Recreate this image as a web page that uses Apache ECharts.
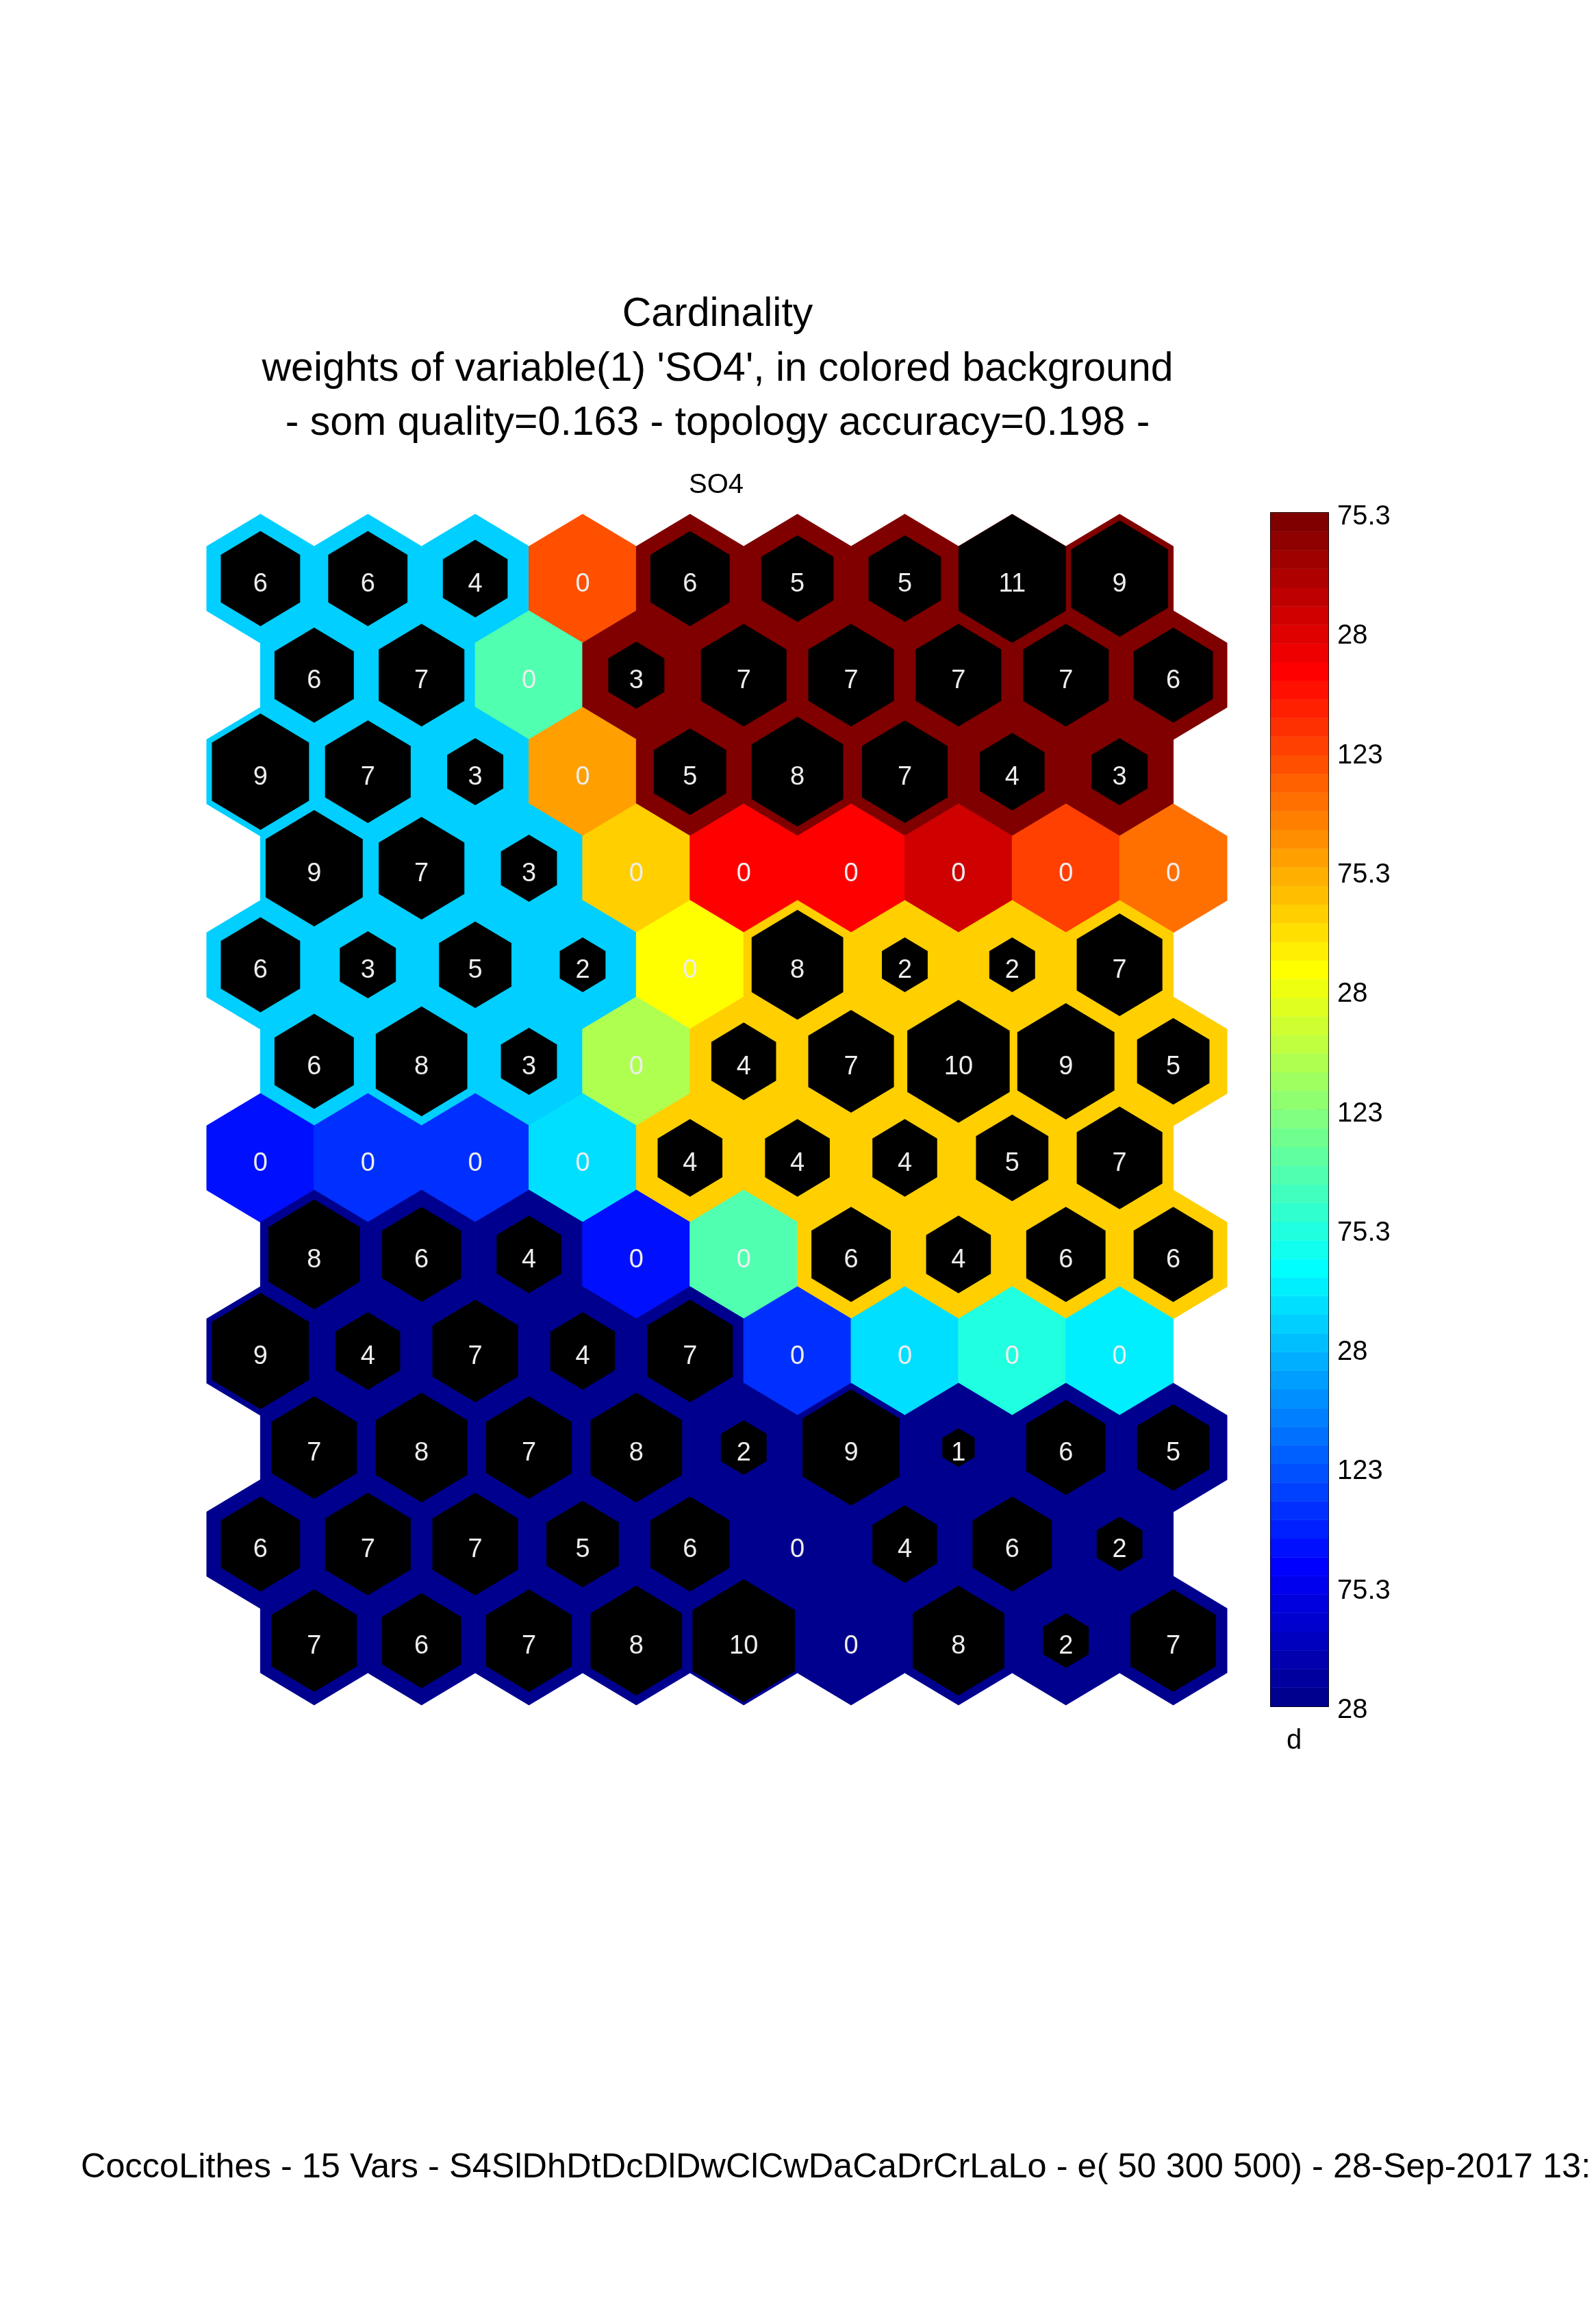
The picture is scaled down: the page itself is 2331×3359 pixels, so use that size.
<!DOCTYPE html>
<html>
<head>
<meta charset="utf-8">
<title>Cardinality - SO4</title>
<script src="https://cdn.jsdelivr.net/npm/echarts@6/dist/echarts.min.js"></script>
<style>
  html, body { margin: 0; padding: 0; background: #fff; }
  #chart { width: 2331px; height: 3359px; }
</style>
</head>
<body>
<div id="chart"></div>
<script>
// hits per SOM unit, 12 rows x 9 columns (odd rows sit half a cell to the right)
const hits = [
  [6, 6, 4, 0, 6, 5, 5, 11, 9],
  [6, 7, 0, 3, 7, 7, 7, 7, 6],
  [9, 7, 3, 0, 5, 8, 7, 4, 3],
  [9, 7, 3, 0, 0, 0, 0, 0, 0],
  [6, 3, 5, 2, 0, 8, 2, 2, 7],
  [6, 8, 3, 0, 4, 7, 10, 9, 5],
  [0, 0, 0, 0, 4, 4, 4, 5, 7],
  [8, 6, 4, 0, 0, 6, 4, 6, 6],
  [9, 4, 7, 4, 7, 0, 0, 0, 0],
  [7, 8, 7, 8, 2, 9, 1, 6, 5],
  [6, 7, 7, 5, 6, 0, 4, 6, 2],
  [7, 6, 7, 8, 10, 0, 8, 2, 7]
];

// weight of SO4 in each unit, read as a level (1..64) of the jet colour map
const so4Level = [
  [21, 21, 21, 51, 64, 64, 64, 64, 64],
  [21, 21, 29, 64, 64, 64, 64, 64, 64],
  [21, 21, 21, 46, 64, 64, 64, 64, 64],
  [21, 21, 21, 43, 56, 56, 59, 52, 49],
  [21, 21, 21, 21, 40, 43, 43, 43, 43],
  [21, 21, 21, 35, 43, 43, 43, 43, 43],
  [9, 11, 11, 22, 43, 43, 43, 43, 43],
  [1, 1, 1, 9, 29, 43, 43, 43, 43],
  [1, 1, 1, 1, 1, 11, 22, 26, 23],
  [1, 1, 1, 1, 1, 1, 1, 1, 1],
  [1, 1, 1, 1, 1, 1, 1, 1, 1],
  [1, 1, 1, 1, 1, 1, 1, 1, 1]
];

// colorbar tick labels, bottom to top
const cbarLabels = ['28', '75.3', '123', '28', '75.3', '123', '28', '75.3', '123', '28', '75.3'];

const titleLines = [
  'Cardinality',
  "weights of variable(1) 'SO4', in colored background",
  '- som quality=0.163 - topology accuracy=0.198 -'
];
const footerText = 'CoccoLithes - 15 Vars - S4SlDhDtDcDlDwClCwDaCaDrCrLaLo - e( 50 300 500) - 28-Sep-2017 13:';

const FONT = '"Liberation Sans", Arial, Helvetica, sans-serif';
const NLEVELS = 64;

// matlab jet(64)
function jet (k) {
  let r, g, b;
  if (k <= 24) r = 0; else if (k <= 40) r = (k - 24) / 16; else if (k <= 56) r = 1; else r = 1 - (k - 56) / 16;
  if (k <= 8) g = 0; else if (k <= 24) g = (k - 8) / 16; else if (k <= 40) g = 1; else if (k <= 55) g = 1 - (k - 40) / 16; else g = 0;
  if (k <= 8) b = (k + 8) / 16; else if (k <= 24) b = 1; else if (k <= 39) b = 1 - (k - 24) / 16; else b = 0;
  return 'rgb(' + Math.round(r * 255) + ',' + Math.round(g * 255) + ',' + Math.round(b * 255) + ')';
}

const maxHits = Math.max(...hits.map(r => Math.max(...r)));

const cells = [];
hits.forEach((row, r) => {
  row.forEach((n, c) => {
    cells.push([c + (r % 2) * 0.5, r, so4Level[r][c], n]);
  });
});

const cbarData = [];
for (let k = 1; k <= NLEVELS; k++) cbarData.push([0, k - 1, k]);

function hexPoints (c, hw, rv, s) {
  return [[0, -rv], [hw, -rv / 2], [hw, rv / 2], [0, rv], [-hw, rv / 2], [-hw, -rv / 2]]
    .map(p => [c[0] + p[0] * s, c[1] + p[1] * s]);
}

function renderBack (params, api) {
  const c = api.coord([api.value(0), api.value(1)]);
  const u = api.size([1, 1]);
  const color = jet(api.value(2));
  return {
    type: 'polygon',
    shape: { points: hexPoints(c, u[0] / 2, u[1] * 2 / 3, 1) },
    style: { fill: color, stroke: color, lineWidth: 1 }
  };
}

function renderFront (params, api) {
  const c = api.coord([api.value(0), api.value(1)]);
  const u = api.size([1, 1]);
  const n = api.value(3);
  const children = [];
  if (n > 0) {
    children.push({
      type: 'polygon',
      shape: { points: hexPoints(c, u[0] / 2, u[1] * 2 / 3, Math.sqrt(n / maxHits)) },
      style: { fill: '#000' }
    });
  }
  children.push({
    type: 'text',
    x: c[0],
    y: c[1] + 9,
    style: {
      text: String(n),
      align: 'center',
      verticalAlign: 'middle',
      fill: '#ededed',
      fontSize: 38,
      fontFamily: FONT
    }
  });
  return { type: 'group', children: children };
}

function renderBar (params, api) {
  const lo = api.coord([0, api.value(1)]);
  const hi = api.coord([1, api.value(1) + 1]);
  const color = jet(api.value(2));
  return {
    type: 'rect',
    shape: { x: lo[0], y: hi[1], width: hi[0] - lo[0], height: lo[1] - hi[1] },
    style: { fill: color, stroke: color, lineWidth: 0.5 }
  };
}

const textStyle = (size) => ({ fontSize: size, fontFamily: FONT, fill: '#000', align: 'center', verticalAlign: 'middle' });

const chart = echarts.init(document.getElementById('chart'), null, { renderer: 'canvas' });

chart.setOption({
  backgroundColor: '#fff',
  animation: false,
  graphic: [
    { type: 'text', x: 1048, y: 460, style: Object.assign({ text: titleLines[0] }, textStyle(59)) },
    { type: 'text', x: 1048, y: 540, style: Object.assign({ text: titleLines[1] }, textStyle(59)) },
    { type: 'text', x: 1048, y: 619, style: Object.assign({ text: titleLines[2] }, textStyle(59)) },
    { type: 'text', x: 1046, y: 709, style: Object.assign({ text: 'SO4' }, textStyle(40)) },
    { type: 'text', x: 1890, y: 2543, style: Object.assign({ text: 'd' }, textStyle(40)) },
    { type: 'text', x: 118, y: 3166, style: { text: footerText, fontSize: 50.5, fontFamily: FONT, fill: '#000', align: 'left', verticalAlign: 'middle' } }
  ],
  grid: [
    { left: 302, top: 751, width: 1490, height: 1739 },
    { left: 1856, top: 749, width: 84, height: 1743 }
  ],
  xAxis: [
    { gridIndex: 0, type: 'value', min: -0.5, max: 9, show: false },
    {
      gridIndex: 1, type: 'value', min: 0, max: 1, position: 'bottom',
      axisLine: { show: true, onZero: false, lineStyle: { color: '#000', width: 2 } },
      axisTick: { show: false }, axisLabel: { show: false }, splitLine: { show: false }
    },
    {
      gridIndex: 1, type: 'value', min: 0, max: 1, position: 'top',
      axisLine: { show: true, onZero: false, lineStyle: { color: '#000', width: 2 } },
      axisTick: { show: false }, axisLabel: { show: false }, splitLine: { show: false }
    }
  ],
  yAxis: [
    { gridIndex: 0, type: 'value', min: -2 / 3, max: 11 + 2 / 3, inverse: true, show: false },
    { gridIndex: 1, type: 'value', min: 0, max: NLEVELS, show: false },
    {
      gridIndex: 1, type: 'value', min: 0, max: 10, interval: 1, position: 'left',
      axisLine: { show: true, onZero: false, lineStyle: { color: '#000', width: 2 } },
      axisTick: { show: true, inside: true, length: 18, lineStyle: { color: '#000', width: 1.5 } },
      axisLabel: { show: false }, splitLine: { show: false }
    },
    {
      gridIndex: 1, type: 'value', min: 0, max: 10, interval: 1, position: 'right',
      axisLine: { show: true, onZero: false, lineStyle: { color: '#000', width: 2 } },
      axisTick: { show: true, inside: true, length: 18, lineStyle: { color: '#000', width: 1.5 } },
      axisLabel: {
        show: true, margin: 13,
        formatter: (v) => '{t|' + cbarLabels[Math.round(v)] + '}',
        rich: {
          t: { color: '#000', fontSize: 40, fontFamily: FONT, padding: [12, 0, 0, 0] }
        }
      },
      splitLine: { show: false }
    }
  ],
  series: [
    {
      type: 'custom', name: 'SO4', xAxisIndex: 0, yAxisIndex: 0,
      data: cells, encode: { x: 0, y: 1 }, renderItem: renderBack, silent: true, z: 1
    },
    {
      type: 'custom', name: 'hits', xAxisIndex: 0, yAxisIndex: 0,
      data: cells, encode: { x: 0, y: 1 }, renderItem: renderFront, silent: true, z: 2
    },
    {
      type: 'custom', name: 'colorbar', xAxisIndex: 1, yAxisIndex: 1,
      data: cbarData, encode: { x: 0, y: 1 }, renderItem: renderBar, silent: true, z: 1
    }
  ]
});
</script>
</body>
</html>
